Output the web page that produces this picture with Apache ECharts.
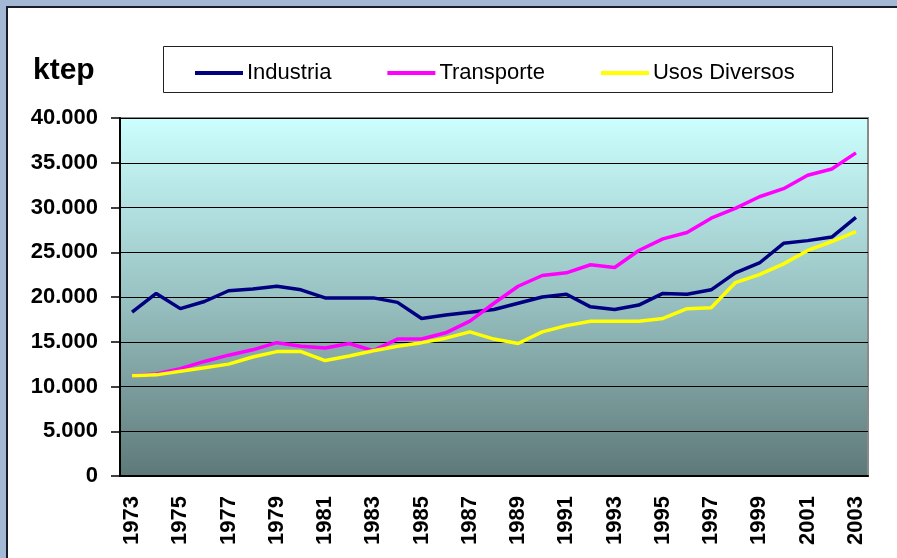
<!DOCTYPE html>
<html>
<head>
<meta charset="utf-8">
<script src="https://cdn.jsdelivr.net/npm/echarts@6/dist/echarts.min.js"></script>
<style>
  html, body { margin: 0; padding: 0; background: #a3b8d4; }
  #chart { width: 897px; height: 558px; }
</style>
</head>
<body>
<div id="chart"></div>
<script>
// years 1973..2003
var years = [];
for (var y = 1973; y <= 2003; y++) years.push(String(y));

var industria = [18300, 20400, 18700, 19500, 20700, 20900, 21200, 20800, 19900, 19900,
                 19900, 19400, 17600, 18000, 18300, 18600, 19300, 20000, 20300, 18900,
                 18600, 19100, 20400, 20300, 20800, 22700, 23800, 26000, 26300, 26700, 28900];
var transporte = [11200, 11400, 12000, 12800, 13500, 14100, 14900, 14500, 14300, 14800,
                  14000, 15300, 15300, 16000, 17300, 19300, 21200, 22400, 22700, 23600,
                  23300, 25200, 26500, 27200, 28800, 29900, 31200, 32100, 33600, 34300, 36100];
var usos = [11200, 11300, 11700, 12100, 12500, 13300, 13900, 13900, 12900, 13400,
            14000, 14500, 14900, 15400, 16100, 15300, 14800, 16100, 16800, 17300,
            17300, 17300, 17600, 18700, 18800, 21600, 22500, 23700, 25200, 26200, 27300];

var myChart = echarts.init(document.getElementById('chart'));

function fmt(v) {
    return String(v).replace(/\B(?=(\d{3})+(?!\d))/g, '.');
}

var option = {
    backgroundColor: '#a3b8d4',
    animation: false,
    textStyle: { fontFamily: 'Arial, "Liberation Sans", sans-serif' },
    graphic: [
        {
            type: 'rect', z: -10,
            shape: { x: 7, y: 7, width: 900, height: 560 },
            style: { fill: '#ffffff', stroke: '#1c1c28', lineWidth: 2 }
        },
        {
            type: 'rect', z: -5,
            shape: { x: 163.5, y: 46.5, width: 669, height: 46 },
            style: { fill: '#ffffff', stroke: '#222', lineWidth: 1 }
        },
        {
            type: 'text', left: 33, top: 56,
            style: { text: 'ktep', fontSize: 30, fontWeight: 'bold', fill: '#000',
                     fontFamily: 'Arial, "Liberation Sans", sans-serif' }
        }
    ],
    legend: {
        left: 190, top: 57,
        icon: 'rect',
        itemWidth: 48, itemHeight: 4,
        itemGap: 56,
        textStyle: { fontSize: 22, color: '#000', padding: [0, 0, 0, -1] },
        data: ['Industria', 'Transporte', 'Usos Diversos']
    },
    grid: {
        left: 120, right: 29, top: 118, bottom: 82,
        show: true,
        borderColor: '#8a8a8a', borderWidth: 2,
        backgroundColor: {
            type: 'linear', x: 0, y: 0, x2: 0, y2: 1,
            colorStops: [
                { offset: 0, color: '#ccffff' },
                { offset: 0.5, color: '#99c2c2' },
                { offset: 1, color: '#5e7878' }
            ]
        }
    },
    xAxis: {
        type: 'category',
        data: years,
        boundaryGap: true,
        axisLine: { lineStyle: { color: '#000', width: 2 } },
        axisTick: { interval: 0, length: 8, lineStyle: { color: '#000', width: 1.5 } },
        axisLabel: {
            interval: 1, rotate: 90, margin: 20,
            fontSize: 22, fontWeight: 'bold', color: '#000'
        }
    },
    yAxis: {
        type: 'value',
        min: 0, max: 40000, interval: 5000,
        axisLine: { show: true, lineStyle: { color: '#000', width: 2 } },
        axisTick: { show: true, length: 9, lineStyle: { color: '#000', width: 1.5 } },
        splitLine: { lineStyle: { color: '#000', width: 1.2 } },
        axisLabel: {
            margin: 22, fontSize: 22, fontWeight: 'bold', color: '#000',
            formatter: fmt
        }
    },
    series: [
        { name: 'Industria', type: 'line', data: industria, showSymbol: false,
          lineStyle: { color: '#000080', width: 3.5 }, itemStyle: { color: '#000080' } },
        { name: 'Transporte', type: 'line', data: transporte, showSymbol: false,
          lineStyle: { color: '#ff00ff', width: 3.5 }, itemStyle: { color: '#ff00ff' } },
        { name: 'Usos Diversos', type: 'line', data: usos, showSymbol: false,
          lineStyle: { color: '#ffff00', width: 3.5 }, itemStyle: { color: '#ffff00' } }
    ]
};

myChart.setOption(option);
window.addEventListener('resize', function () {
    myChart.resize();
});
</script>
</body>
</html>
